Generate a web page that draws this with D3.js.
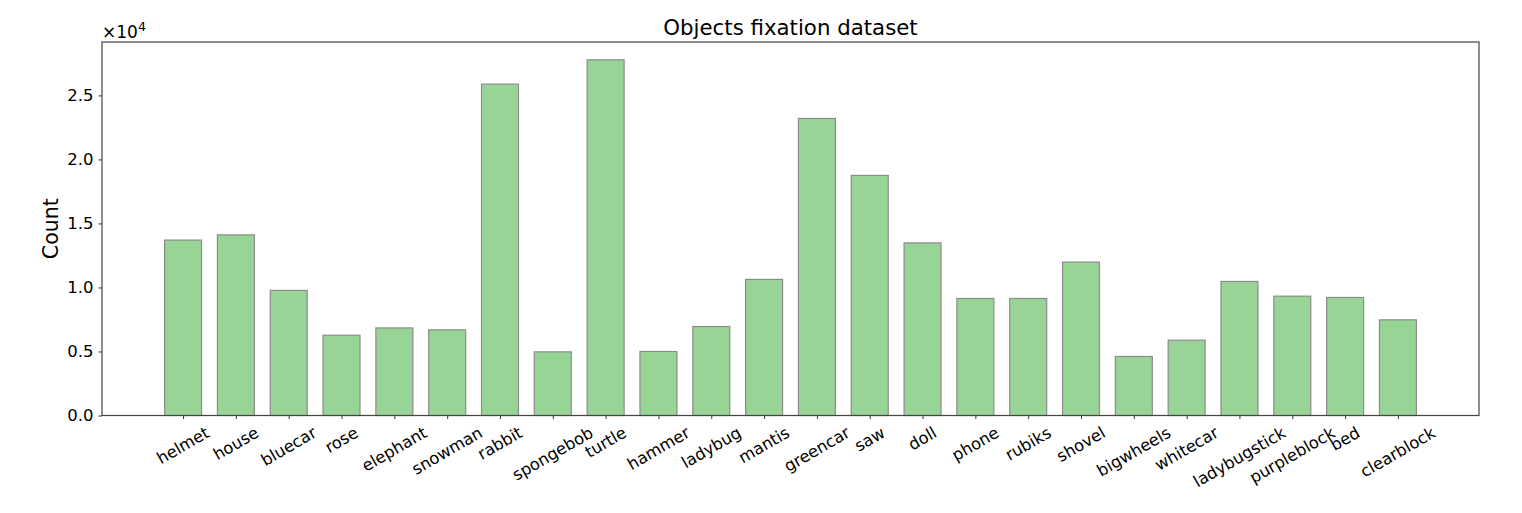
<!DOCTYPE html>
<html><head><meta charset="utf-8">
<script src="https://cdn.jsdelivr.net/npm/d3@7"></script>
<style>body{margin:0;background:#fff}svg{display:block}text{font-family:"DejaVu Sans",sans-serif;fill:#000}</style>
</head><body><svg id="c" width="1522" height="513"></svg>
<script>
const categories = ["helmet","house","bluecar","rose","elephant","snowman","rabbit","spongebob","turtle","hammer","ladybug","mantis","greencar","saw","doll","phone","rubiks","shovel","bigwheels","whitecar","ladybugstick","purpleblock","bed","clearblock"];
const counts = [13700,14110,9770,6270,6840,6690,25880,4970,27780,5000,6950,10630,23200,18750,13480,9140,9140,11980,4610,5880,10470,9320,9220,7470];
const yTicks = [0, 5000, 10000, 15000, 20000, 25000];
const yTickLabels = ["0.0","0.5","1.0","1.5","2.0","2.5"];
const title = "Objects fixation dataset";
const yLabel = "Count";

const svg = d3.select("#c");
const L = 102, R = 1479, T = 42, B = 415.5;
const n = categories.length, bw = 0.7;
const lo = -bw/2, hi = n - 1 + bw/2, m = (hi - lo) * 0.05;
const x = d3.scaleLinear().domain([lo - m, hi + m]).range([L, R]);
const y = d3.scaleLinear().domain([0, 29170]).range([B, T]);

// bars
svg.append("g").selectAll("rect").data(counts).join("rect")
  .attr("x", (d,i) => x(i - bw/2)).attr("width", (d,i) => x(i + bw/2) - x(i - bw/2))
  .attr("y", d => y(d)).attr("height", d => y(0) - y(d))
  .attr("fill", "#98d495").attr("stroke", "#8c8c8c").attr("stroke-width", 1.2);

// y axis
const yAxis = d3.axisLeft(y).tickValues(yTicks).tickFormat((d,i) => yTickLabels[i]).tickSize(3.5).tickPadding(5);
const gy = svg.append("g").attr("transform", `translate(${L},0)`).call(yAxis);
gy.select(".domain").remove();
gy.selectAll("line").attr("stroke", "#333").attr("stroke-width", 1);
gy.selectAll("text").attr("font-size", 16.5).attr("font-family", "DejaVu Sans");

// x axis
const xAxis = d3.axisBottom(x).tickValues(d3.range(n)).tickFormat(() => "").tickSize(3.5);
const gx = svg.append("g").attr("transform", `translate(0,${B})`).call(xAxis);
gx.select(".domain").remove();
gx.selectAll("line").attr("stroke", "#333").attr("stroke-width", 1);

// rotated x labels (matplotlib rotation=30, ha=center, va=top)
const ang = 30 * Math.PI / 180;
const lg = svg.append("g");
categories.forEach((c, i) => {
  const t = lg.append("text").text(c).attr("font-size", 16.3).attr("text-anchor", "middle").attr("dominant-baseline", "central");
  const w = t.node().getComputedTextLength(), h = 16.3 * 1.17;
  const H = w * Math.sin(ang) + h * Math.cos(ang);
  const cx = x(i), cy = B + 3.5 + 4 + H / 2;
  t.attr("transform", `translate(${cx},${cy}) rotate(-30)`);
});

// frame
svg.append("rect").attr("x", L).attr("y", T).attr("width", R - L).attr("height", B - T)
  .attr("fill", "none").attr("stroke", "#444").attr("stroke-width", 1.2);

// offset text
const off = svg.append("text").attr("x", L).attr("y", 38).attr("font-size", 17);
off.append("tspan").text("×10");
off.append("tspan").text("4").attr("font-size", 12.5).attr("dy", -7);

// title
svg.append("text").attr("x", (L + R) / 2).attr("y", 35).attr("text-anchor", "middle").attr("font-size", 21.3).text(title);

// y label
svg.append("text").attr("transform", `translate(58,${(T + B) / 2}) rotate(-90)`).attr("text-anchor", "middle").attr("font-size", 20.5).text(yLabel);
</script></body></html>
